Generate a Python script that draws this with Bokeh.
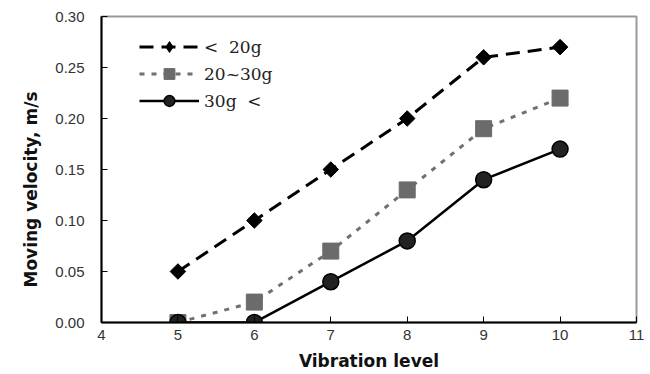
import numpy as np
from bokeh.plotting import figure
from bokeh.models import Range1d, FixedTicker, Legend, LegendItem, NumeralTickFormatter, Title
from bokeh.embed import file_html
from bokeh.resources import INLINE

levels = [5, 6, 7, 8, 9, 10]
v_lt20 = [0.05, 0.10, 0.15, 0.20, 0.26, 0.27]
v_20_30 = [0.00, 0.02, 0.07, 0.13, 0.19, 0.22]
v_gt30 = [0.00, 0.00, 0.04, 0.08, 0.14, 0.17]
labels = ["<  20g", "20~30g", "30g  <"]
x_ticks = [4, 5, 6, 7, 8, 9, 10, 11]
y_ticks = [0.00, 0.05, 0.10, 0.15, 0.20, 0.25, 0.30]

p = figure(width=650, height=374, output_backend="svg", toolbar_location=None,
           x_range=Range1d(4, 11), y_range=Range1d(0, 0.30),
           min_border_left=101, min_border_right=14, min_border_top=16, min_border_bottom=52)
p.xgrid.visible = False
p.ygrid.visible = False
p.outline_line_color = "#9a9a9a"
p.outline_line_width = 2
p.background_fill_color = "white"
p.border_fill_color = "white"

for ax in (p.xaxis[0], p.yaxis[0]):
    ax.axis_line_color = "black"
    ax.axis_line_width = 2
    ax.major_tick_in = 6
    ax.major_tick_out = 0
    ax.major_tick_line_color = "black"
    ax.minor_tick_line_color = None
    ax.major_label_text_font = "Liberation Sans"
    ax.major_label_text_font_size = "15px"
    ax.major_label_text_color = "#333333"
    ax.axis_label_text_font = "DejaVu Sans"
    ax.axis_label_text_font_style = "bold"
    ax.axis_label_text_font_size = "17px"
    ax.axis_label_text_color = "#111111"

p.xaxis.ticker = FixedTicker(ticks=x_ticks)
p.yaxis.ticker = FixedTicker(ticks=y_ticks)
p.yaxis.formatter = NumeralTickFormatter(format="0.00")
p.xaxis.axis_label = "Vibration level"
p.xaxis.major_label_standoff = 7
p.xaxis.axis_label_standoff = 8
p.yaxis.major_label_standoff = 17

ytitle = Title(text="Moving velocity, m/s", align="left", offset=35, standoff=24,
               text_font="DejaVu Sans", text_font_style="bold", text_font_size="17px",
               text_color="#111111")
p.add_layout(ytitle, "left")

l1 = p.line(levels, v_lt20, line_color="black", line_width=3, line_dash="14 8")
m1 = p.scatter(levels, v_lt20, marker="square", angle=np.pi/4, size=11,
               fill_color="black", line_color="black")
m1_leg = p.scatter(levels, v_lt20, marker="diamond", size=11,
                   fill_color="black", line_color="black", visible=False)
l2 = p.line(levels, v_20_30, line_color="#707070", line_width=3, line_dash="5 7")
m2 = p.scatter(levels, v_20_30, marker="square", size=16,
               fill_color="#6b6b6b", line_color="#6b6b6b")
l3 = p.line(levels, v_gt30, line_color="black", line_width=2.5)
m3 = p.scatter(levels, v_gt30, marker="circle", size=16,
               fill_color="#222222", line_color="black", line_width=1.5)

legend = Legend(items=[LegendItem(label=labels[0], renderers=[l1, m1_leg]),
                       LegendItem(label=labels[1], renderers=[l2, m2]),
                       LegendItem(label=labels[2], renderers=[l3, m3])],
                location=(38, 208), orientation="vertical")
legend.border_line_color = None
legend.background_fill_alpha = 0
legend.padding = 0
legend.margin = 0
legend.spacing = 0
legend.glyph_width = 60
legend.glyph_height = 27
legend.label_height = 27
legend.label_standoff = 5
legend.label_text_font = "DejaVu Serif"
legend.label_text_font_size = "17px"
legend.label_text_color = "#222222"
p.add_layout(legend, "center")

open("out.html", "w").write(file_html(p, INLINE))
